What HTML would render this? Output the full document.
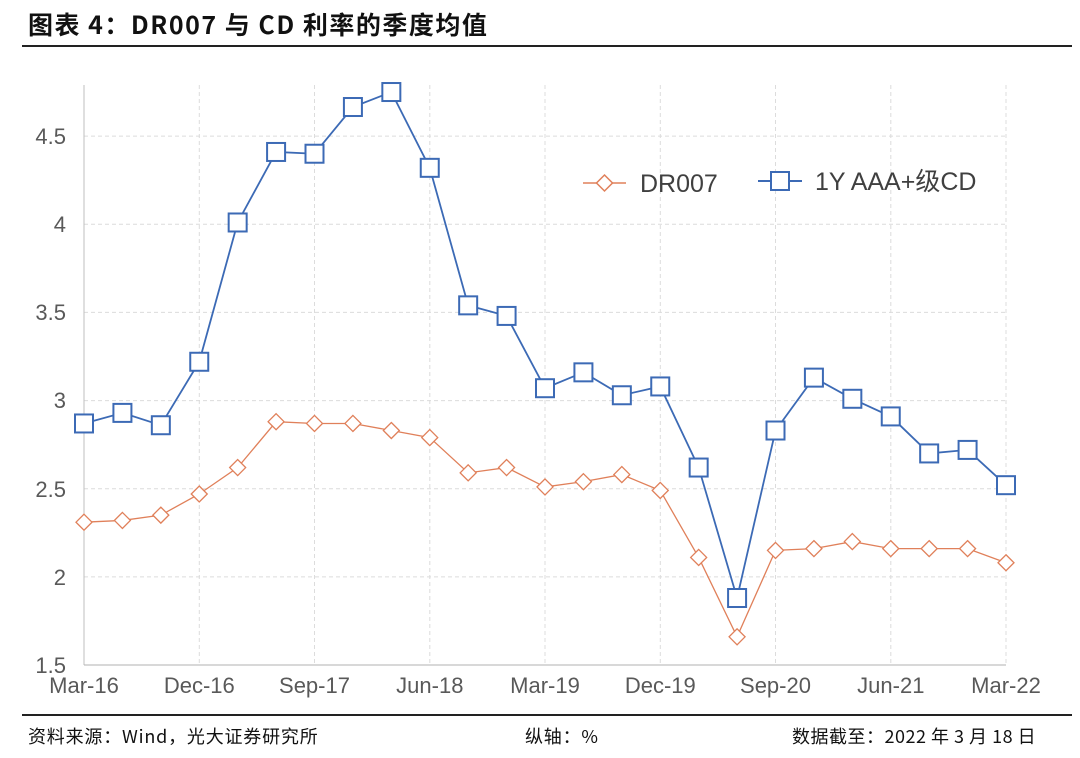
<!DOCTYPE html>
<html><head><meta charset="utf-8"><style>
body{margin:0;background:#fff;width:1080px;height:753px;overflow:hidden;font-family:"Liberation Sans","Noto Sans CJK SC",sans-serif}
</style></head><body>
<svg width="1080" height="753" xmlns="http://www.w3.org/2000/svg" font-family="Liberation Sans, Noto Sans CJK SC, sans-serif">
<text x="28" y="34" font-size="25" font-weight="bold" fill="#111" letter-spacing="1.5" font-family="Noto Sans CJK SC, sans-serif">图表 4：DR007 与 CD 利率的季度均值</text>
<line x1="22" y1="46" x2="1072" y2="46" stroke="#222" stroke-width="2"/>
<g stroke="#dcdcdc" stroke-width="1" stroke-dasharray="4,3">
<line x1="199.3" y1="85" x2="199.3" y2="665"/><line x1="314.5" y1="85" x2="314.5" y2="665"/>
<line x1="429.8" y1="85" x2="429.8" y2="665"/><line x1="545" y1="85" x2="545" y2="665"/>
<line x1="660.3" y1="85" x2="660.3" y2="665"/><line x1="775.5" y1="85" x2="775.5" y2="665"/>
<line x1="890.8" y1="85" x2="890.8" y2="665"/><line x1="1006" y1="85" x2="1006" y2="665"/>
<line x1="84" y1="576.9" x2="1006" y2="576.9"/><line x1="84" y1="488.7" x2="1006" y2="488.7"/>
<line x1="84" y1="400.6" x2="1006" y2="400.6"/><line x1="84" y1="312.4" x2="1006" y2="312.4"/>
<line x1="84" y1="224.3" x2="1006" y2="224.3"/><line x1="84" y1="136.1" x2="1006" y2="136.1"/>
</g>
<line x1="84" y1="85" x2="84" y2="665" stroke="#bfbfbf"/>
<line x1="84" y1="665" x2="1006" y2="665" stroke="#b0b0b0"/>
<g font-size="22" fill="#595959" text-anchor="end">
<text x="66" y="673">1.5</text><text x="66" y="585">2</text><text x="66" y="497">2.5</text>
<text x="66" y="408">3</text><text x="66" y="320">3.5</text><text x="66" y="232">4</text><text x="66" y="144">4.5</text>
</g>
<g font-size="22" fill="#595959" text-anchor="middle">
<text x="84" y="693">Mar-16</text><text x="199.3" y="693">Dec-16</text><text x="314.5" y="693">Sep-17</text>
<text x="429.8" y="693">Jun-18</text><text x="545" y="693">Mar-19</text><text x="660.3" y="693">Dec-19</text>
<text x="775.5" y="693">Sep-20</text><text x="890.8" y="693">Jun-21</text><text x="1006" y="693">Mar-22</text>
</g>
<g id="c"></g>
<line x1="583" y1="183" x2="626" y2="183" stroke="#e0805a" stroke-width="1.5"/>
<path d="M604.5 175 L612.5 183 L604.5 191 L596.5 183Z" fill="#fff" stroke="#e0805a" stroke-width="1.5"/>
<text x="640" y="192" font-size="25" fill="#404040">DR007</text>
<line x1="758" y1="181" x2="802" y2="181" stroke="#3c6ab5" stroke-width="2"/>
<rect x="771" y="172" width="18" height="18" fill="#fff" stroke="#3c6ab5" stroke-width="2"/>
<text x="815" y="190" font-size="25" fill="#404040">1Y AAA+级CD</text>
<line x1="22" y1="715" x2="1072" y2="715" stroke="#222" stroke-width="2"/>
<g font-size="18" fill="#111" font-family="Noto Sans CJK SC, sans-serif">
<text x="28" y="743" letter-spacing="0.8">资料来源：Wind，光大证券研究所</text>
<text x="525" y="743" letter-spacing="0.8">纵轴：%</text>
<text x="792" y="743" letter-spacing="0.5">数据截至：2022 年 3 月 18 日</text>
</g>
</svg>
<script>
const cd=[2.87,2.93,2.86,3.22,4.01,4.41,4.40,4.665,4.75,4.32,3.54,3.48,3.07,3.16,3.03,3.08,2.62,1.88,2.83,3.13,3.01,2.91,2.70,2.72,2.52];
const dr=[2.31,2.32,2.35,2.47,2.62,2.88,2.87,2.87,2.83,2.79,2.59,2.62,2.51,2.54,2.58,2.49,2.11,1.66,2.15,2.16,2.20,2.16,2.16,2.16,2.08];
const X=i=>84+i*922/24, Y=v=>665-(v-1.5)*176.3;
let s='';
s+='<polyline fill="none" stroke="#e0805a" stroke-width="1.3" points="'+dr.map((v,i)=>X(i)+','+Y(v)).join(' ')+'"/>';
dr.forEach((v,i)=>{const x=X(i),y=Y(v);s+=`<path d="M${x} ${y-8}L${x+8} ${y}L${x} ${y+8}L${x-8} ${y}Z" fill="#fff" stroke="#e0805a" stroke-width="1.3"/>`});
s+='<polyline fill="none" stroke="#3c6ab5" stroke-width="1.8" points="'+cd.map((v,i)=>X(i)+','+Y(v)).join(' ')+'"/>';
cd.forEach((v,i)=>{s+=`<rect x="${X(i)-9}" y="${Y(v)-9}" width="18" height="18" fill="#fff" stroke="#3c6ab5" stroke-width="2"/>`});
document.getElementById('c').innerHTML=s;
</script>
</body></html>
